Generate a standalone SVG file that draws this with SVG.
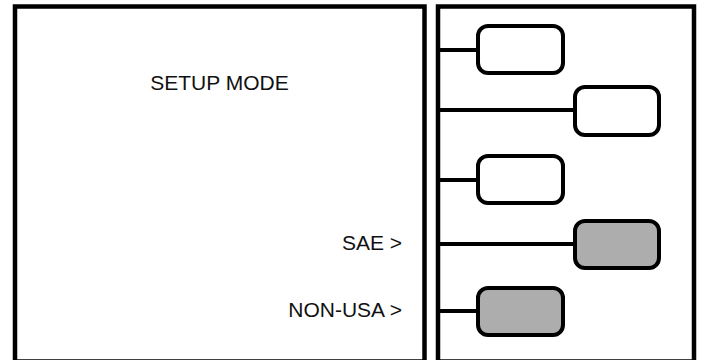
<svg xmlns="http://www.w3.org/2000/svg" width="703" height="360" viewBox="0 0 703 360">
<style>
.panel{fill:#fff;stroke:#000;stroke-width:4.5}
.box{stroke:#000;stroke-width:4}
.w{fill:#fff}
.g{fill:#adadad}
.conn{stroke:#000;stroke-width:4;fill:none}
text{font-family:"Liberation Sans",Arial,sans-serif;font-size:21px;fill:#111}
</style>
<rect width="703" height="360" fill="#fff"/>
<g id="left-panel">
<rect class="panel" x="15" y="6.5" width="409.5" height="355"/>
<text x="219.5" y="90" text-anchor="middle">SETUP MODE</text>
<text x="402" y="250" text-anchor="end">SAE &gt;</text>
<text x="402" y="317" text-anchor="end">NON-USA &gt;</text>
</g>
<g id="right-panel">
<rect class="panel" x="438" y="6.5" width="256" height="355"/>
</g>
<g id="connectors">
<line class="conn" x1="440" y1="50" x2="478" y2="50"/>
<line class="conn" x1="440" y1="110" x2="575" y2="110"/>
<line class="conn" x1="440" y1="180" x2="478" y2="180"/>
<line class="conn" x1="440" y1="244" x2="575" y2="244"/>
<line class="conn" x1="440" y1="311" x2="478" y2="311"/>
</g>
<g id="box1"><rect class="box w" x="478" y="26" width="85" height="47" rx="10"/></g>
<g id="box2"><rect class="box w" x="575" y="87" width="84" height="48" rx="10"/></g>
<g id="box3"><rect class="box w" x="478" y="156" width="85" height="47" rx="10"/></g>
<g id="box4"><rect class="box g" x="575" y="221" width="84" height="47" rx="10"/></g>
<g id="box5"><rect class="box g" x="478" y="288" width="85" height="47" rx="10"/></g>
</svg>
